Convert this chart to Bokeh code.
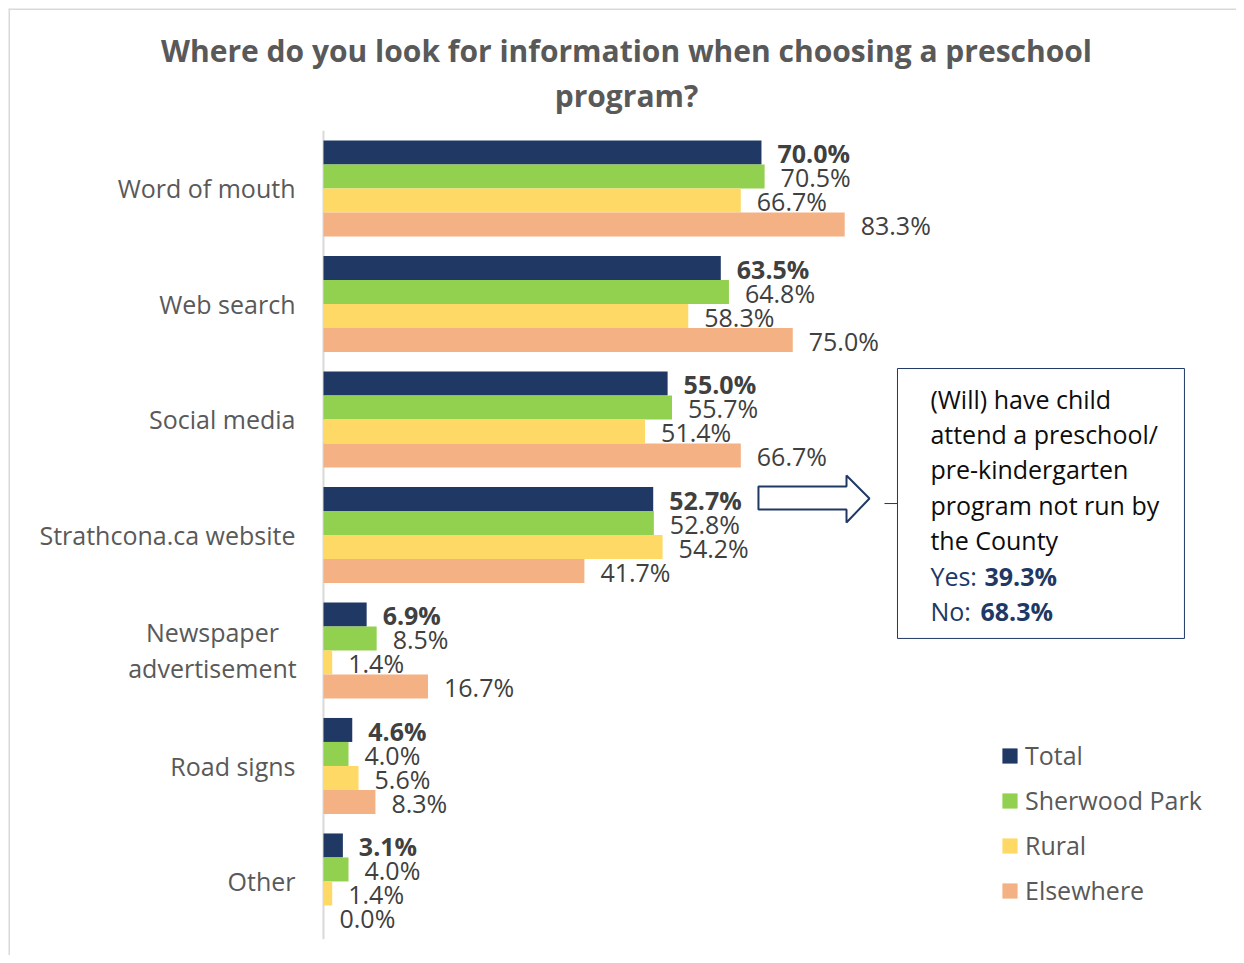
from bokeh.plotting import figure
from bokeh.models import Range1d, BoxAnnotation, Legend, LegendItem, ColumnDataSource
from bokeh.core.properties import value
from bokeh.embed import file_html
from bokeh.resources import INLINE

# ---------------- data ----------------
categories = ["Word of mouth", "Web search", "Social media", "Strathcona.ca website",
              "Newspaper\nadvertisement", "Road signs", "Other"]
series_names = ["Total", "Sherwood Park", "Rural", "Elsewhere"]
total = [70.0, 63.5, 55.0, 52.7, 6.9, 4.6, 3.1]
sherwood_park = [70.5, 64.8, 55.7, 52.8, 8.5, 4.0, 4.0]
rural = [66.7, 58.3, 51.4, 54.2, 1.4, 5.6, 1.4]
elsewhere = [83.3, 75.0, 66.7, 41.7, 16.7, 8.3, 0.0]
colors = ["#203864", "#92D050", "#FFD966", "#F4B183"]

title_text = "Where do you look for information when choosing a preschool\nprogram?"
box_lines = ["(Will) have child", "attend a preschool/", "pre-kindergarten",
             "program not run by", "the County"]
yes_pct = 39.3
no_pct = 68.3

FONT = value("Open Sans")
FS = "25px"
W, H = 1236, 955
X0, X1 = -50.34, 145.92
Y0, Y1 = -0.641, 7.558

p = figure(width=W, height=H, output_backend="svg", toolbar_location=None,
           x_range=Range1d(X0, X1), y_range=Range1d(Y0, Y1),
           x_axis_type=None, y_axis_type=None,
           min_border_left=8, min_border_top=8, min_border_right=0, min_border_bottom=0)
p.outline_line_color = None
p.background_fill_color = "white"
p.border_fill_color = "white"

# chart-area border (left and top edges only are visible)
p.segment(x0=[X0, X0], y0=[Y0, Y1], x1=[X0, X1], y1=[Y1, Y1],
          line_color="#d9d9d9", line_width=3)

n = len(categories)
cat_y = [n - 1 - i for i in range(n)]
bar_h = 0.2078
all_series = [total, sherwood_park, rural, elsewhere]

# axis line
p.segment(x0=[0], y0=[-0.5], x1=[0], y1=[n - 0.5], line_color="#d9d9d9", line_width=2)

legend_items = []
for j, (name, vals, col) in enumerate(zip(series_names, all_series, colors)):
    ys = [c + (1.5 - j) * bar_h for c in cat_y]
    src = ColumnDataSource(dict(y=ys, v=vals, lab=[f"{v:.1f}%" for v in vals]))
    r = p.hbar(y="y", right="v", left=0, height=bar_h, source=src,
               fill_color=col, line_color=None)
    legend_items.append(LegendItem(label=name, renderers=[r]))
    p.text(x="v", y="y", text="lab", source=src, x_offset=16, y_offset=1,
           text_font=FONT, text_font_size=FS, text_color="#404040",
           text_baseline="middle", text_align="left",
           text_font_style="bold" if j == 0 else "normal")

# category labels
single = [(c, y) for c, y in zip(categories, cat_y) if "\n" not in c]
multi = [(c, y) for c, y in zip(categories, cat_y) if "\n" in c]
p.text(x=[0] * len(single), y=[y for _, y in single], text=[c for c, _ in single],
       x_offset=-28, text_align="right", text_baseline="middle",
       text_font=FONT, text_font_size=FS, text_color="#595959")
p.text(x=[0] * len(multi), y=[y for _, y in multi], text=[c for c, _ in multi],
       x_offset=-111, text_align="center", text_baseline="middle", text_line_height=1.06,
       text_font=FONT, text_font_size=FS, text_color="#595959")

# title
p.text(x=[48.43], y=[7.0], text=[title_text], text_align="center", text_baseline="middle",
       text_font=FONT, text_font_size="30px", text_font_style="bold",
       text_color="#595959", text_line_height=1.1)

# arrow
ax = [69.52, 83.59, 83.59, 87.26, 83.59, 83.59, 69.52]
ay = [3.420, 3.420, 3.515, 3.316, 3.108, 3.221, 3.221]
p.patch(ax, ay, fill_color="white", line_color="#203864", line_width=2)

# callout box
p.add_layout(BoxAnnotation(left=91.74, right=137.6, top=4.441, bottom=2.104,
                           fill_alpha=0, line_color="#203864", line_alpha=1, line_width=1))
p.segment(x0=[89.66], y0=[3.272], x1=[91.74], y1=[3.272], line_color="#203864", line_width=1)

base_y = 4.18
pitch = 0.3065
p.text(x=[97.0] * len(box_lines), y=[base_y - k * pitch for k in range(len(box_lines))],
       text=box_lines, text_baseline="middle", text_align="left",
       text_font=FONT, text_font_size=FS, text_color="#0d0d0d")
y_yes = base_y - len(box_lines) * pitch
y_no = y_yes - pitch
p.text(x=[97.0, 97.0], y=[y_yes, y_no], text=["Yes:", "No:"], text_baseline="middle",
       text_font=FONT, text_font_size=FS, text_color="#203864")
p.text(x=[97.0, 97.0], y=[y_yes, y_no], text=[f"{yes_pct:.1f}%", f"{no_pct:.1f}%"],
       x_offset=[54, 50], text_baseline="middle",
       text_font=FONT, text_font_size=FS, text_color="#203864", text_font_style="bold")

legend = Legend(items=legend_items, location=(992, 48), orientation="vertical",
                glyph_width=19, glyph_height=19, label_standoff=6, label_height=33,
                spacing=11, padding=0, margin=0, border_line_alpha=0,
                background_fill_alpha=0, label_text_font="Open Sans",
                label_text_font_size=FS, label_text_color="#595959")
p.add_layout(legend)

open("out.html", "w").write(file_html(p, INLINE))
